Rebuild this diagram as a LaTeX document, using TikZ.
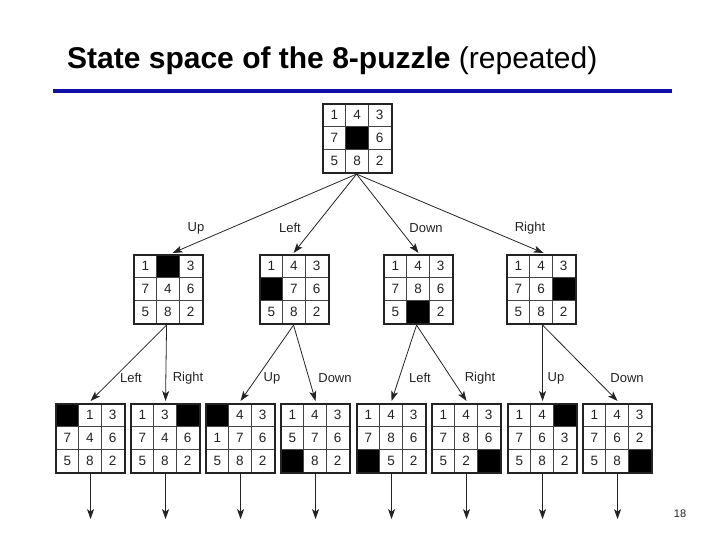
\documentclass[tikz,border=0pt]{standalone}
\usepackage{fontspec}
\setmainfont{Liberation Sans}
\usetikzlibrary{calc,arrows.meta}
\definecolor{titleblue}{RGB}{16,16,168}
\definecolor{ink}{RGB}{35,35,35}
\tikzset{
  puzbox/.style={draw=ink, line width=1.1pt, minimum size=68pt, inner sep=0pt, anchor=north west},
  gridline/.style={draw=ink!85, line width=0.8pt},
  digit/.style={font=\fontsize{13.5}{13.5}\selectfont, text=ink, inner sep=0pt},
  mlabel/.style={font=\fontsize{13}{13}\selectfont, text=ink, inner sep=0pt},
  arr/.style={draw=ink, line width=0.8pt, -{Stealth[length=10pt,width=7pt,inset=2.5pt]}},
}
\newcommand\puz[3]{%
  \node[puzbox] (#1) at (#2) {};
  \foreach \v [count=\i from 0] in {#3}{%
    \pgfmathtruncatemacro\cc{mod(\i,3)}%
    \pgfmathtruncatemacro\rr{div(\i,3)}%
    \ifnum\v=0
      \fill[black] ($(#1.north west)+(\cc*22.667,\rr*22.667)$) rectangle ++(22.667,22.667);
    \else
      \node[digit] at ($(#1.north west)+(\cc*22.667+11.333,\rr*22.667+11.333)$) {\v};
    \fi
  }%
  \foreach \k in {1,2}{%
    \draw[gridline] ($(#1.north west)+(\k*22.667,0)$) -- ++(0,68);
    \draw[gridline] ($(#1.north west)+(0,\k*22.667)$) -- ++(68,0);
  }%
  \draw[draw=ink, line width=1.1pt] (#1.north west) rectangle (#1.south east);
}
\begin{document}
\begin{tikzpicture}[x=1pt,y=-1pt]
\useasboundingbox (0,0) rectangle (720,540);
% title
\node[anchor=base west, inner sep=0pt, font=\fontsize{30}{30}\selectfont] (title) at (67,69)
  {\textbf{State space of the 8-puzzle} (repeated)};
\draw[titleblue, line width=3.5pt] (53,91) -- (672,91);
% root
\puz{root}{323,104}{1,4,3,7,0,6,5,8,2}
% level 2
\puz{u}{134,255}{1,0,3,7,4,6,5,8,2}
\puz{l}{260,255}{1,4,3,0,7,6,5,8,2}
\puz{d}{384,255}{1,4,3,7,8,6,5,0,2}
\puz{r}{507,255}{1,4,3,7,6,0,5,8,2}
% level 3
\puz{ul}{56,404}{0,1,3,7,4,6,5,8,2}
\puz{ur}{131,404}{1,3,0,7,4,6,5,8,2}
\puz{lu}{206,404}{0,4,3,1,7,6,5,8,2}
\puz{ld}{281,404}{1,4,3,5,7,6,0,8,2}
\puz{dl}{357,404}{1,4,3,7,8,6,0,5,2}
\puz{dr}{432,404}{1,4,3,7,8,6,5,2,0}
\puz{ru}{508,404}{1,4,0,7,6,3,5,8,2}
\puz{rd}{583,404}{1,4,3,7,6,2,5,8,0}
% root arrows
\coordinate (rs) at ($(root.south)+(-1,1)$);
\draw[arr] (rs) -- ($(u.north)+(4,-2)$);
\draw[arr] (rs) -- ($(l.north)+(-1,-2)$);
\draw[arr] (rs) -- ($(d.north)+(0,-2)$);
\draw[arr] (rs) -- ($(r.north)+(2,-2)$);
\node[mlabel] (lup) at (196,228) {Up};
\node[mlabel] (lleft) at (290,228) {Left};
\node[mlabel] (ldown) at (426,228) {Down};
\node[mlabel] (lright) at (530,228) {Right};
% level 2 arrows
\draw[arr] ($(u.south)+(-2,1)$) -- ($(ul.north)+(0,-3)$);
\draw[arr] ($(u.south)+(-2,1)$) -- ($(ur.north)+(0,-3)$);
\draw[arr] ($(l.south)+(-1,1)$) -- ($(lu.north)+(0,-3)$);
\draw[arr] ($(l.south)+(-1,1)$) -- ($(ld.north)+(0,-3)$);
\draw[arr] ($(d.south)+(-2,1)$) -- ($(dl.north)+(0,-3)$);
\draw[arr] ($(d.south)+(-2,1)$) -- ($(dr.north)+(0,-3)$);
\draw[arr] ($(r.south)+(1,1)$) -- ($(ru.north)+(0,-3)$);
\draw[arr] ($(r.south)+(1,1)$) -- ($(rd.north)+(0,-3)$);
\node[mlabel] (a1) at (131,378) {Left};
\node[mlabel] (a2) at (188,378) {Right};
\node[mlabel] (a3) at (272,378) {Up};
\node[mlabel] (a4) at (335,378) {Down};
\node[mlabel] (a5) at (420,378) {Left};
\node[mlabel] (a6) at (480,378) {Right};
\node[mlabel] (a7) at (556,378) {Up};
\node[mlabel] (a8) at (627,378) {Down};
% level 3 arrows
\foreach \n in {ul,ur,lu,ld,dl,dr,ru,rd}{
  \coordinate (\n-end) at ($(\n.south)+(0,46)$);
  \draw[arr] (\n.south) -- (\n-end);
}
% page number
\node[inner sep=0pt, font=\fontsize{11}{11}\selectfont, text=ink] (pnum) at (680,514) {18};
\end{tikzpicture}
\end{document}
